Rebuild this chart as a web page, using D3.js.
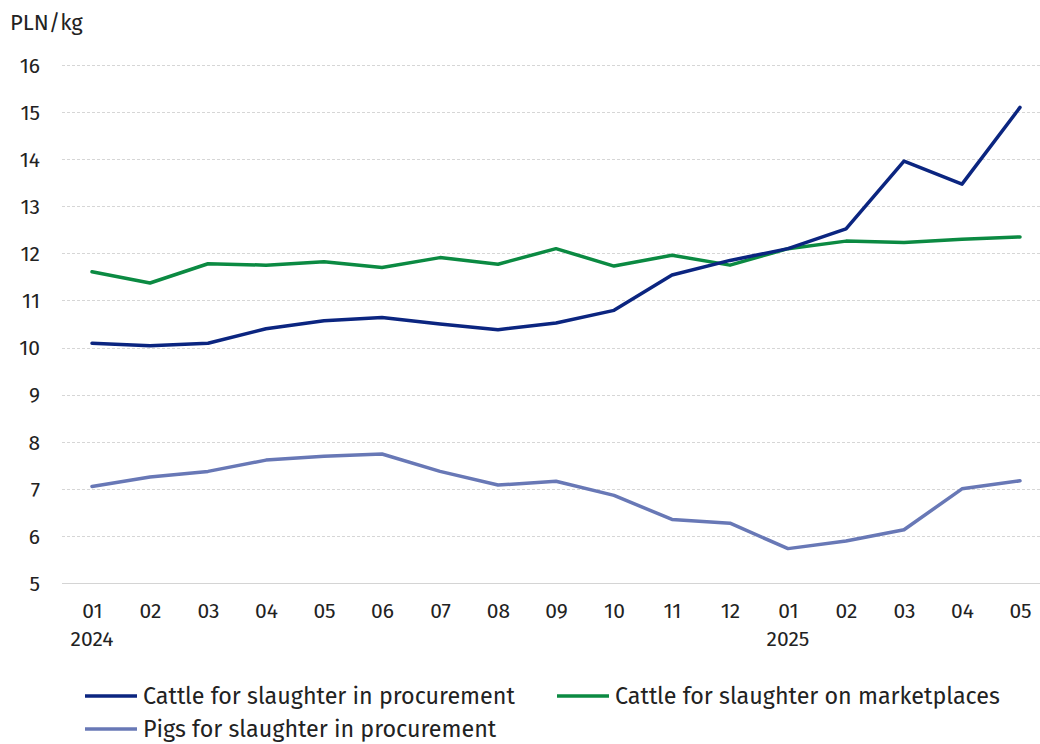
<!DOCTYPE html>
<html>
<head>
<meta charset="utf-8">
<script src="https://cdn.jsdelivr.net/npm/d3@7"></script>
<style>
  body { margin: 0; background: #fff; }
  text { font-family: "Fira Sans", "Open Sans", "Noto Sans", sans-serif; fill: #222; }
</style>
</head>
<body>
<div id="chart"></div>
<script>
const months = ["01", "02", "03", "04", "05", "06", "07", "08", "09", "10", "11", "12", "01", "02", "03", "04", "05"];
const years = { 0: "2024", 12: "2025" };
const yTicks = [5, 6, 7, 8, 9, 10, 11, 12, 13, 14, 15, 16];

const cattleProcurement = [10.09, 10.04, 10.09, 10.40, 10.57, 10.64, 10.50, 10.38, 10.52, 10.79, 11.54, 11.85, 12.10, 12.52, 13.96, 13.47, 15.10];
const cattleMarket = [11.61, 11.37, 11.78, 11.75, 11.82, 11.70, 11.91, 11.77, 12.10, 11.73, 11.96, 11.75, 12.10, 12.26, 12.23, 12.30, 12.35];
const pigsProcurement = [7.05, 7.25, 7.37, 7.61, 7.69, 7.74, 7.37, 7.08, 7.16, 6.86, 6.35, 6.27, 5.73, 5.89, 6.13, 7.00, 7.17];

const seriesNames = ["Cattle for slaughter in procurement", "Cattle for slaughter on marketplaces", "Pigs for slaughter in procurement"];
const seriesColors = ["#0b2580", "#0b8a42", "#6878b6"];

const width = 1040,
  height = 744,
  margin = { top: 65, bottom: 161, left: 62, right: 0 };

const series = [cattleProcurement, cattleMarket, pigsProcurement].map((values, i) => ({
  name: seriesNames[i],
  color: seriesColors[i],
  values: values
}));

const svg = d3
  .select("#chart")
  .append("svg")
  .attr("width", width)
  .attr("height", height);

const xScale = d3
  .scalePoint()
  .domain(d3.range(months.length))
  .range([92, 1020]);

const yScale = d3
  .scaleLinear()
  .domain([5, 16])
  .range([height - margin.bottom, margin.top]);

// gridlines
svg
  .append("g")
  .selectAll("line")
  .data(yTicks)
  .join("line")
  .attr("x1", margin.left)
  .attr("x2", width)
  .attr("y1", d => Math.round(yScale(d)) + 0.5)
  .attr("y2", d => Math.round(yScale(d)) + 0.5)
  .attr("stroke", d => (d === 5 ? "#d4d4d4" : "#d6d6d6"))
  .attr("stroke-width", 1)
  .attr("stroke-dasharray", d => (d === 5 ? null : "3,2"));

// y axis labels
const yAxis = d3.axisLeft(yScale).tickValues(yTicks).tickSize(0).tickPadding(0);
svg
  .append("g")
  .attr("transform", "translate(40,0)")
  .call(yAxis)
  .call(g => g.select(".domain").remove())
  .selectAll("text")
  .attr("font-size", 21)
  .attr("font-family", null)
  .attr("dy", "0.35em");

svg
  .append("text")
  .attr("x", 10)
  .attr("y", 30)
  .attr("font-size", 22)
  .text("PLN/kg");

// x axis labels
const xAxis = d3.axisBottom(xScale).tickFormat(i => months[i]).tickSize(0).tickPadding(0);
svg
  .append("g")
  .attr("transform", "translate(0,618)")
  .call(xAxis)
  .call(g => g.select(".domain").remove())
  .selectAll("text")
  .attr("font-size", 21)
  .attr("font-family", null)
  .attr("dy", "0");

svg
  .append("g")
  .selectAll("text")
  .data(Object.keys(years).map(Number))
  .join("text")
  .attr("x", d => xScale(d))
  .attr("y", 646)
  .attr("text-anchor", "middle")
  .attr("font-size", 21)
  .text(d => years[d]);

// lines
const line = d3
  .line()
  .x((d, i) => xScale(i))
  .y(d => yScale(d));

svg
  .append("g")
  .selectAll("path")
  .data([series[2], series[1], series[0]])
  .join("path")
  .attr("fill", "none")
  .attr("stroke", d => d.color)
  .attr("stroke-width", 3.5)
  .attr("stroke-linejoin", "round")
  .attr("stroke-linecap", "round")
  .attr("d", d => line(d.values));

// legend
const legendPos = [
  { x: 85, y: 696 },
  { x: 557, y: 696 },
  { x: 85, y: 729 }
];

const legend = svg
  .append("g")
  .selectAll("g")
  .data(series)
  .join("g")
  .attr("transform", (d, i) => `translate(${legendPos[i].x},${legendPos[i].y})`);

legend
  .append("line")
  .attr("x1", 0)
  .attr("x2", 52)
  .attr("stroke", d => d.color)
  .attr("stroke-width", 3.5);

legend
  .append("text")
  .attr("x", 58)
  .attr("dy", "0.35em")
  .attr("font-size", 23.3)
  .text(d => d.name);
</script>
</body>
</html>
